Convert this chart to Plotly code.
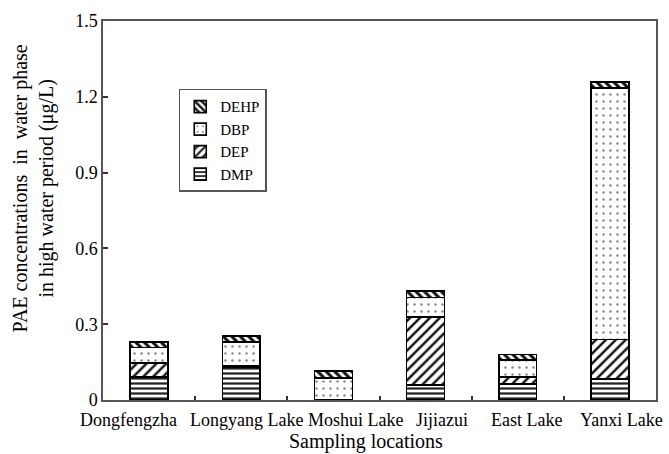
import plotly.graph_objects as go

# Sampling sites along the x axis
locations = ["Dongfengzha", "Longyang Lake", "Moshui Lake", "Jijiazui", "East Lake", "Yanxi Lake"]

# PAE concentrations (μg/L), stacked from bottom to top
dmp = [0.092, 0.130, 0.000, 0.059, 0.063, 0.082]
dep = [0.055, 0.005, 0.000, 0.270, 0.027, 0.158]
dbp = [0.061, 0.095, 0.086, 0.076, 0.068, 0.994]
dehp = [0.022, 0.024, 0.028, 0.026, 0.022, 0.025]

# Horizontal nudges of the site names (in category units) so long names don't collide
label_shift = [-0.22, 0.06, 0.24, 0.18, 0.10, 0.13]

FONT = "Liberation Serif, Times New Roman, serif"

series = [
    ("DMP", dmp, dict(shape="-", size=5, solidity=0.45, fgcolor="#222")),
    ("DEP", dep, dict(shape="/", size=7, solidity=0.35, fgcolor="#111")),
    ("DBP", dbp, dict(shape=".", size=7, solidity=0.1, fgcolor="#888")),
    ("DEHP", dehp, dict(shape="\\", size=6, solidity=0.5, fgcolor="#111")),
]

fig = go.Figure()
for name, vals, pat in series:
    pat = dict(pat, bgcolor="white", fillmode="replace")
    fig.add_trace(go.Bar(
        x=locations, y=vals, name=name, width=0.41,
        marker=dict(color="white", pattern=pat, line=dict(color="black", width=1.6)),
    ))

annotations = []
for i, (loc, dx) in enumerate(zip(locations, label_shift)):
    annotations.append(dict(
        x=i + dx, y=0, xref="x", yref="paper", yshift=-8,
        text=loc, showarrow=False, xanchor="center", yanchor="top",
        font=dict(family=FONT, size=18, color="black"),
    ))

# axis titles
annotations.append(dict(
    x=0.475, y=-0.142, xref="paper", yref="paper", yanchor="bottom",
    text="Sampling locations", showarrow=False, borderpad=0,
    font=dict(family=FONT, size=20, color="black"),
))
annotations.append(dict(
    x=-0.125, y=0.558, xref="paper", yref="paper", xanchor="center", yanchor="middle",
    text="PAE concentrations  in  water phase<br>in high water period (μg/L)",
    showarrow=False, textangle=-90,
    font=dict(family=FONT, size=20, color="black"),
))

fig.update_layout(
    width=669, height=454,
    margin=dict(l=103, r=11, t=20, b=54),
    barmode="stack",
    plot_bgcolor="white", paper_bgcolor="white",
    font=dict(family=FONT, size=18, color="black"),
    showlegend=True,
    legend=dict(
        x=0.137, y=0.821, xanchor="left", yanchor="top",
        traceorder="reversed",
        bordercolor="#555", borderwidth=1.5, bgcolor="white",
        font=dict(family=FONT, size=15, color="black"),
        itemwidth=30, tracegroupgap=0,
    ),
    annotations=annotations,
)

fig.update_xaxes(
    type="category", range=[-0.5, 5.5],
    showticklabels=False, tickson="boundaries",
    ticks="inside", ticklen=4, tickcolor="#333", tickwidth=1.5,
    showline=True, linecolor="#555", linewidth=1.5, mirror=True,
    showgrid=False, zeroline=False,
)
fig.update_yaxes(
    range=[0, 1.5], tickvals=[0, 0.3, 0.6, 0.9, 1.2, 1.5],
    ticktext=["0", "0.3", "0.6", "0.9", "1.2", "1.5"],
    ticks="inside", ticklen=5, tickcolor="#333", tickwidth=1.5,
    showline=True, linecolor="#555", linewidth=1.5, mirror=True,
    showgrid=False, zeroline=False,
    tickfont=dict(family=FONT, size=18, color="black"),
)

fig.write_html("out.html")
